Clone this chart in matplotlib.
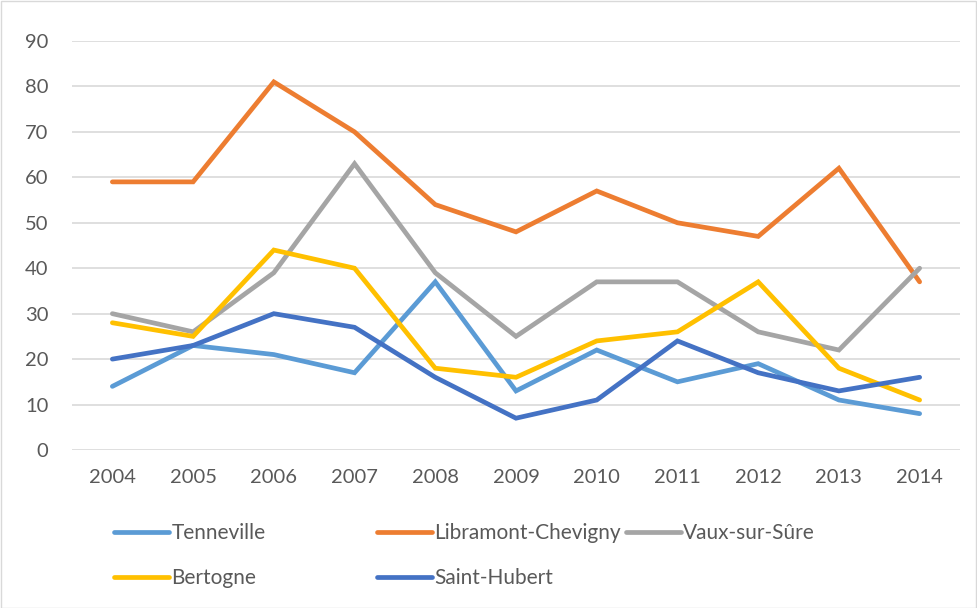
import matplotlib
matplotlib.use("Agg")
import matplotlib.pyplot as plt
from matplotlib.patches import Rectangle

years = [2004, 2005, 2006, 2007, 2008, 2009, 2010, 2011, 2012, 2013, 2014]
tenneville = [14, 23, 21, 17, 37, 13, 22, 15, 19, 11, 8]
libramont = [59, 59, 81, 70, 54, 48, 57, 50, 47, 62, 37]
vaux = [30, 26, 39, 63, 39, 25, 37, 37, 26, 22, 40]
bertogne = [28, 25, 44, 40, 18, 16, 24, 26, 37, 18, 11]
saint_hubert = [20, 23, 30, 27, 16, 7, 11, 24, 17, 13, 16]

series = [
    ("Tenneville", tenneville, "#5B9BD5"),
    ("Libramont-Chevigny", libramont, "#ED7D31"),
    ("Vaux-sur-Sûre", vaux, "#A5A5A5"),
    ("Bertogne", bertogne, "#FFC000"),
    ("Saint-Hubert", saint_hubert, "#4472C4"),
]

plt.rcParams["font.family"] = ["Lato", "DejaVu Sans"]
text_color = "#595959"

fig = plt.figure(figsize=(9.77, 6.08), dpi=100)
ax = fig.add_axes([72 / 977, 1 - 450 / 608, (960 - 72) / 977, (450 - 41) / 608])

x = list(range(len(years)))
lines = []
for name, vals, color in series:
    (ln,) = ax.plot(x, vals, color=color, lw=3.4, solid_capstyle="round",
                    solid_joinstyle="miter", label=name, zorder=3)
    lines.append(ln)

ax.set_xlim(-0.5, len(years) - 0.5)
ax.set_ylim(0, 90)
ax.set_yticks(range(0, 91, 10))
ax.set_xticks(x)
ax.set_xticklabels([str(y) for y in years])
ax.grid(axis="y", color="#D9D9D9", lw=1.2, zorder=0)
for s in ax.spines.values():
    s.set_visible(False)
ax.tick_params(axis="both", length=0, colors=text_color, labelsize=14.5)
ax.tick_params(axis="x", pad=14)
ax.tick_params(axis="y", pad=17)

# legend entries laid out in a fixed grid
positions = [(114, 533), (377, 533), (626, 533), (114, 578), (377, 578)]
for ln, (px, py) in zip(lines, positions):
    fig.legend(handles=[ln], loc="center left",
               bbox_to_anchor=(px / 977, 1 - py / 608),
               frameon=False, fontsize=15, handlelength=2.65,
               handletextpad=0.1, borderpad=0, borderaxespad=0,
               labelcolor=text_color)

fig.patches.append(Rectangle((0.5 / 977, 0.5 / 608), 1 - 1.5 / 977, 1 - 1.5 / 608,
                             transform=fig.transFigure, fill=False,
                             edgecolor="#D9D9D9", lw=1.0))

fig.savefig("out.png", dpi=100)
